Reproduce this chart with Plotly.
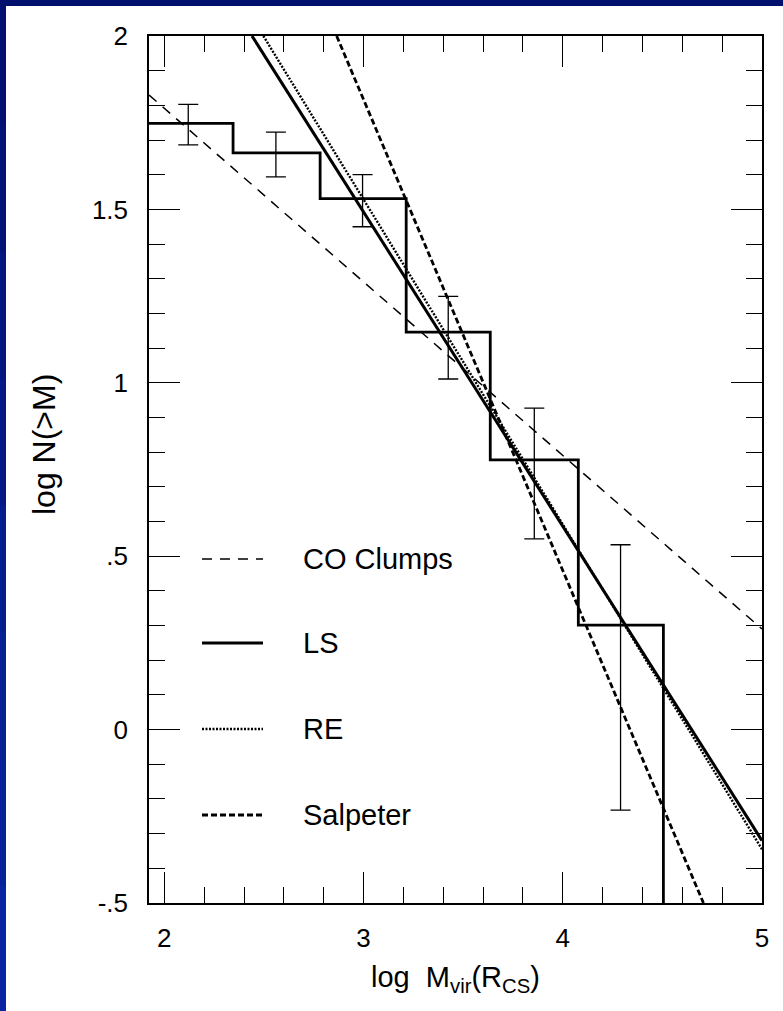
import plotly.graph_objects as go

# ---------------- data ----------------
bin_edges = [1.90, 2.345, 2.782, 3.214, 3.636, 4.078, 4.505]
log_n = [1.748, 1.663, 1.531, 1.146, 0.778, 0.301]

err_x = [2.12, 2.56, 2.995, 3.425, 3.857, 4.29]
err_hi = [1.803, 1.723, 1.600, 1.249, 0.927, 0.533]
err_lo = [1.686, 1.594, 1.450, 1.011, 0.550, -0.232]

# fitted lines: end points
co_x, co_y = [1.923, 5.0], [1.830, 0.290]
ls_x, ls_y = [2.440, 5.0], [2.000, -0.320]
re_x, re_y = [2.497, 5.0], [2.000, -0.345]
sal_x, sal_y = [2.865, 4.706], [2.000, -0.500]

legend_names = ["CO Clumps", "LS", "RE", "Salpeter"]

x_ticks = [2, 3, 4, 5]
x_ticktext = ["2", "3", "4", "5"]
y_ticks = [2, 1.5, 1, 0.5, 0, -0.5]
y_ticktext = ["2", "1.5", "1", ".5", "0", "-.5"]

# ---------------- figure ----------------
W, H = 783, 1011
ML, MR, MT, MB = 149, 21, 36, 108
PW, PH = W - ML - MR, H - MT - MB
FONT = "Liberation Sans, Arial, Helvetica, sans-serif"


def px(p):
    return (p - ML) / PW


def py(p):
    return (H - MB - p) / PH


fig = go.Figure()

# histogram (step)
step_x = bin_edges
step_y = log_n + [-0.7]
fig.add_trace(go.Scatter(x=step_x, y=step_y, mode="lines", line_shape="hv",
                         line=dict(color="black", width=2.8), showlegend=False,
                         hoverinfo="skip"))

# error bars
fig.add_trace(go.Scatter(
    x=err_x, y=log_n, mode="markers", marker=dict(size=1, color="rgba(0,0,0,0)"),
    error_y=dict(type="data", symmetric=False,
                 array=[h - v for h, v in zip(err_hi, log_n)],
                 arrayminus=[v - l for v, l in zip(log_n, err_lo)],
                 color="black", thickness=1.3, width=10),
    showlegend=False, hoverinfo="skip"))

styles = {
    "CO Clumps": dict(color="black", width=1.5, dash="10px,8px"),
    "LS": dict(color="black", width=3.0, dash="solid"),
    "RE": dict(color="black", width=2.4, dash="2px,1.5px"),
    "Salpeter": dict(color="black", width=2.8, dash="6px,3px"),
}
for name, xs, ys in zip(legend_names, [co_x, ls_x, re_x, sal_x], [co_y, ls_y, re_y, sal_y]):
    fig.add_trace(go.Scatter(x=xs, y=ys, mode="lines", line=styles[name],
                             name=name, showlegend=False, hoverinfo="skip"))

shapes = []
annotations = []

# in-plot legend
leg_y = [559, 643, 729, 815]
for name, yy in zip(legend_names, leg_y):
    st = styles[name]
    shapes.append(dict(type="line", xref="paper", yref="paper",
                       x0=px(202), x1=px(263), y0=py(yy), y1=py(yy),
                       line=dict(color=st["color"], width=st["width"], dash=st["dash"])))
    annotations.append(dict(text=name, xref="paper", yref="paper", x=px(301), y=py(yy),
                            xanchor="left", yanchor="middle", showarrow=False,
                            font=dict(family=FONT, size=29, color="black")))

# blue frame bands (top and left): left band drawn as a smooth vertical gradient
shapes.append(dict(type="rect", xref="paper", yref="paper", x0=px(0), x1=px(6),
                   y0=py(H), y1=py(0), fillcolor="rgb(4,26,136)", line=dict(width=0),
                   layer="above"))
nseg = 8
c0 = (0, 14, 106)
c1 = (10, 40, 168)
for i in range(nseg):
    t = i / (nseg - 1)
    c = tuple(int(round(a + (b - a) * t)) for a, b in zip(c0, c1))
    shapes.append(dict(type="rect", xref="paper", yref="paper", x0=px(0), x1=px(6),
                       y0=py(H * (i + 1) / nseg), y1=py(H * i / nseg),
                       fillcolor="rgba(%d,%d,%d,0.75)" % c, line=dict(width=0),
                       layer="above"))
shapes.append(dict(type="rect", xref="paper", yref="paper", x0=px(0), x1=px(W),
                   y0=py(6), y1=py(0), fillcolor="#00106c", line=dict(width=0), layer="above"))

# axis titles
annotations.append(dict(text="log\u00a0\u00a0M<sub>vir</sub>(R<sub>CS</sub>)", xref="paper", yref="paper",
                        x=0.5, y=py(979), xanchor="center", yanchor="middle", showarrow=False,
                        font=dict(family=FONT, size=29, color="black")))
annotations.append(dict(text="log N(>M)", xref="paper", yref="paper",
                        x=px(44), y=py(445), xanchor="center", yanchor="middle", showarrow=False,
                        textangle=-90, font=dict(family=FONT, size=32, color="black")))

axis_common = dict(showgrid=False, zeroline=False, showline=True, linecolor="black",
                   linewidth=1.5, mirror="ticks", ticks="inside", ticklen=31,
                   tickwidth=1.3, tickcolor="black",
                   tickfont=dict(family=FONT, size=26, color="black"))

fig.update_layout(
    width=W, height=H,
    margin=dict(l=ML, r=MR, t=MT, b=MB, pad=0),
    paper_bgcolor="white", plot_bgcolor="white",
    showlegend=False,
    shapes=shapes, annotations=annotations,
    xaxis=dict(range=[1.923, 5.0], tickvals=x_ticks, ticktext=x_ticktext,
               minor=dict(ticks="inside", ticklen=16, tickwidth=1.3, tickcolor="black",
                          dtick=0.2, tick0=2, showgrid=False),
               ticklabelstandoff=11, **axis_common),
    yaxis=dict(range=[-0.5, 2.0], tickvals=y_ticks, ticktext=y_ticktext,
               minor=dict(ticks="inside", ticklen=16, tickwidth=1.3, tickcolor="black",
                          dtick=0.1, tick0=0, showgrid=False),
               ticklabelstandoff=14, **axis_common),
)

fig.write_html("out.html")
